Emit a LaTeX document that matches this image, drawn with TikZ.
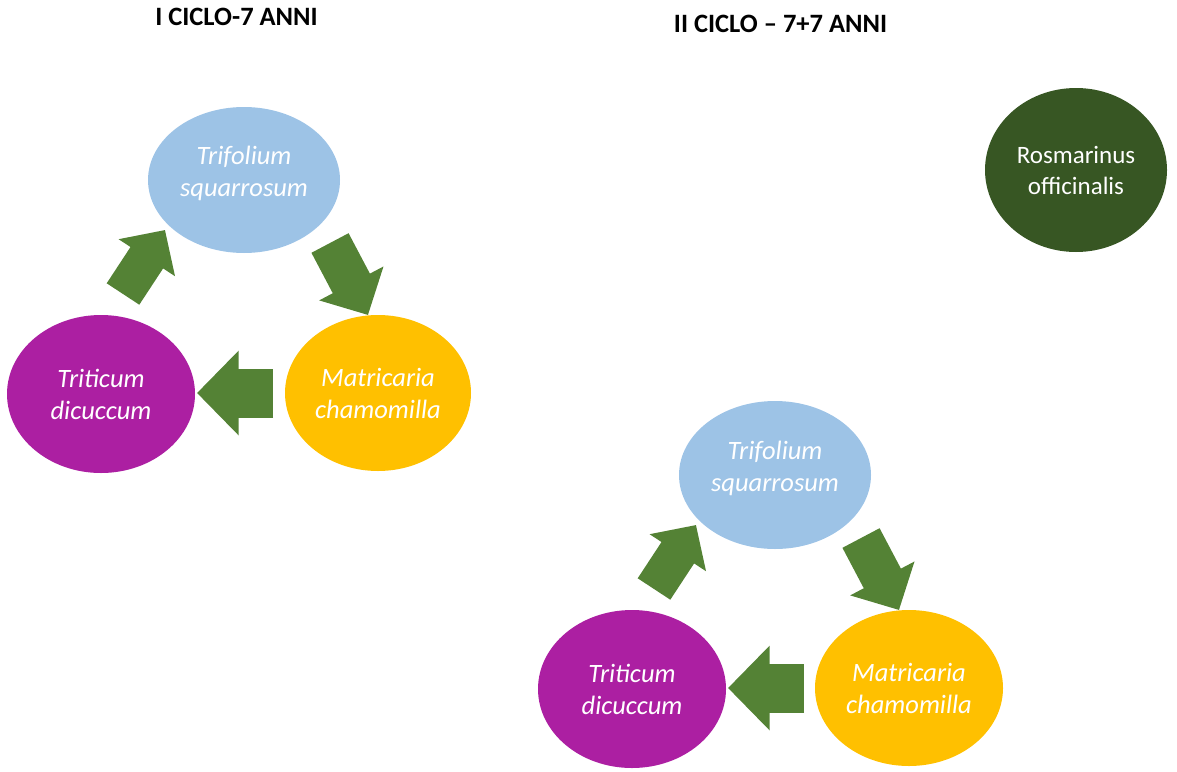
\documentclass[tikz,border=0pt]{standalone}
\usepackage{fontspec}
\setmainfont{Carlito}
\usetikzlibrary{shapes.geometric, arrows.meta}

\definecolor{clover}{HTML}{9DC3E6}
\definecolor{chamo}{HTML}{FFC000}
\definecolor{wheat}{HTML}{AC1FA2}
\definecolor{rosemary}{HTML}{375623}
\definecolor{leaf}{HTML}{548235}

\begin{document}
\begin{tikzpicture}[x=1pt, y=-1pt,
  crop/.style={ellipse, inner sep=0pt, text=white, align=center, font=\fontsize{26.5}{32}\selectfont\itshape},
  turn/.style={leaf, line width=#1, -{Triangle[length=0pt 0.85, width=0pt 1.68]}},
  head/.style={font=\fontsize{26.5}{30}\selectfont\bfseries}]
\useasboundingbox (0,0) rectangle (1177,771);

\node[head] (ciclo1) at (236.5,17) {I CICLO-7 ANNI};
\node[head] (ciclo2) at (780.5,24) {II CICLO -- 7+7 ANNI};

\node[crop, fill=clover, minimum width=192, minimum height=146, text depth=17pt] (tri1) at (244,180) {Trifolium\\squarrosum};
\node[crop, fill=chamo, minimum width=186, minimum height=156] (mat1) at (378,393) {Matricaria\\chamomilla};
\node[crop, fill=wheat, minimum width=188, minimum height=158] (trt1) at (101,394) {Triticum\\dicuccum};

\coordinate (a1) at (123,294);
\coordinate (b1) at (165,230);
\coordinate (c1) at (330,243);
\coordinate (d1) at (368,315);
\coordinate (e1) at (273,393);
\coordinate (f1) at (197,393);

\draw[turn=39] (a1) -- (b1);
\draw[turn=42] (c1) -- (d1);
\draw[turn=49] (e1) -- (f1);

\begin{scope}[shift={(531,295)}]
\node[crop, fill=clover, minimum width=192, minimum height=148, text depth=17pt] (tri2) at (244,180) {Trifolium\\squarrosum};
\node[crop, fill=chamo, minimum width=188, minimum height=156] (mat2) at (378,393) {Matricaria\\chamomilla};
\node[crop, fill=wheat, minimum width=188, minimum height=158] (trt2) at (101,394) {Triticum\\dicuccum};

\coordinate (a2) at (123,294);
\coordinate (b2) at (165,230);
\coordinate (c2) at (330,243);
\coordinate (d2) at (368,315);
\coordinate (e2) at (273,393);
\coordinate (f2) at (197,393);

\draw[turn=39] (a2) -- (b2);
\draw[turn=42] (c2) -- (d2);
\draw[turn=49] (e2) -- (f2);
\end{scope}

\node[crop, fill=rosemary, font=\fontsize{25}{31}\selectfont, minimum width=182, minimum height=164] (ros) at (1076,170) {Rosmarinus\\officinalis};
\end{tikzpicture}
\end{document}
